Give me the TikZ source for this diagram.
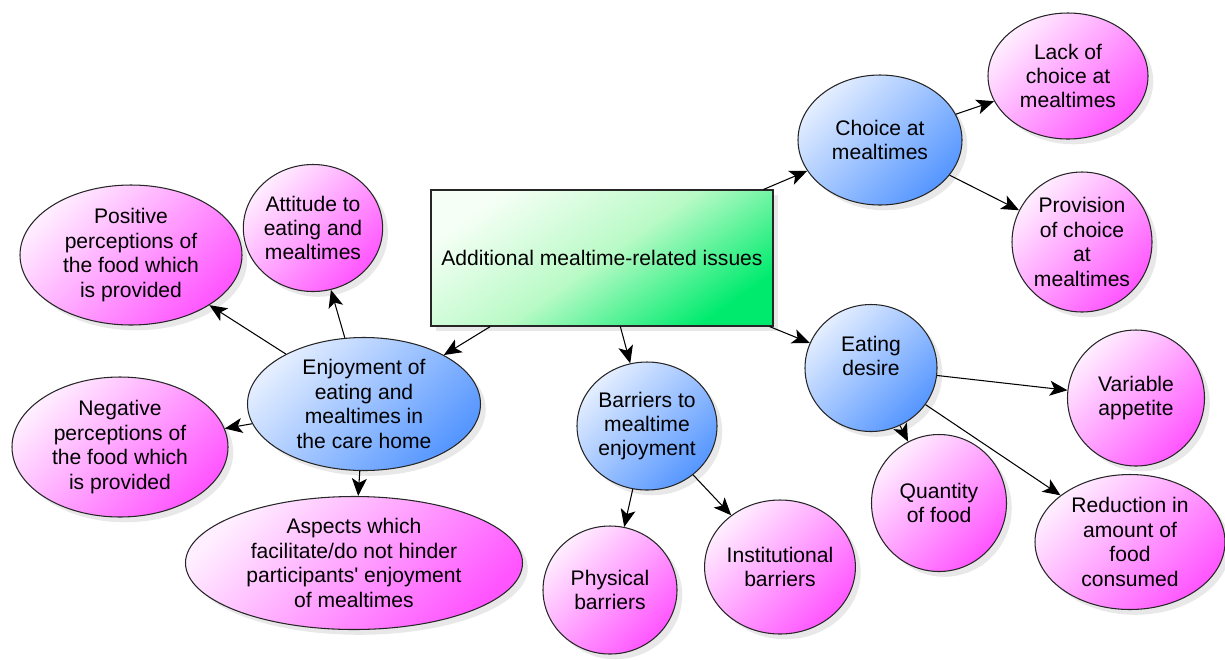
\documentclass[tikz,border=0pt]{standalone}
\usepackage{fontspec}
\setmainfont{Liberation Sans}
\usepackage{tikz}
\usetikzlibrary{arrows.meta,shapes,shadows,positioning,calc}

\definecolor{pinkhi}{RGB}{255,238,255}
\definecolor{pinklo}{RGB}{255,85,255}
\definecolor{bluehi}{RGB}{228,238,255}
\definecolor{bluelo}{RGB}{85,150,255}
\definecolor{greenhi}{RGB}{245,255,245}
\definecolor{greenmid}{RGB}{185,250,198}
\definecolor{greenlo}{RGB}{0,235,110}

\tikzset{
 topic/.style={ellipse, draw=black!85, line width=0.6pt, inner sep=0pt, align=center,
   font=\fontsize{12}{13.9}\selectfont,
   drop shadow={opacity=0.18, shadow xshift=3pt, shadow yshift=-3pt}},
 subtopic/.style={topic, top color=bluehi, bottom color=bluelo, shading angle=45},
 leaf/.style={topic, top color=pinkhi, bottom color=pinklo, shading angle=45},
 rootbox/.style={rectangle, draw=black!85, line width=0.6pt, align=center,
   font=\fontsize{12}{13.9}\selectfont,
   top color=greenhi, bottom color=greenlo, middle color=greenmid, shading angle=35,
   drop shadow={opacity=0.18, shadow xshift=3pt, shadow yshift=-3pt}},
 link/.style={-{Stealth[length=10pt,width=8.5pt,inset=2.5pt]}, line width=0.6pt}
}

\begin{document}
\begin{tikzpicture}
\useasboundingbox (0,0) rectangle (24.5,-13.18);

% centre
\node[rootbox, minimum width=6.84cm, minimum height=2.72cm] (root) at (12.04,-5.16) {Additional mealtime-related issues};

% choice
\node[subtopic, minimum width=3.28cm, minimum height=2.6cm] (choice) at (17.6,-2.8) {Choice at\\mealtimes};
\node[leaf, minimum width=3.2cm, minimum height=2.52cm] (lack) at (21.36,-1.52) {Lack of\\choice at\\mealtimes};
\node[leaf, minimum width=2.8cm, minimum height=2.8cm] (provision) at (21.64,-4.84) {Provision\\of choice\\at\\mealtimes};

% eating desire
\node[subtopic, minimum width=2.64cm, minimum height=2.54cm] (desire) at (17.42,-7.36) {Eating\\desire\\\mbox{}};
\node[leaf, minimum width=2.74cm, minimum height=2.72cm] (appetite) at (22.72,-7.96) {Variable\\appetite};
\node[leaf, minimum width=2.7cm, minimum height=2.74cm] (quantity) at (18.78,-10.06) {Quantity\\of food};
\node[leaf, minimum width=3.8cm, minimum height=2.7cm] (reduction) at (22.6,-10.84) {Reduction in\\amount of\\food\\consumed};

% barriers
\node[subtopic, minimum width=2.8cm, minimum height=2.56cm] (barriers) at (12.94,-8.52) {Barriers to\\mealtime\\enjoyment};
\node[leaf, minimum width=2.68cm, minimum height=2.56cm] (physical) at (12.2,-11.8) {Physical\\barriers};
\node[leaf, minimum width=2.84cm, minimum height=2.68cm] (institutional) at (15.6,-11.34) {Institutional\\barriers};

% enjoyment
\node[subtopic, minimum width=4.66cm, minimum height=2.66cm] (enjoy) at (7.28,-8.08) {Enjoyment of\\eating and\\mealtimes in\\the care home};
\node[leaf, minimum width=2.52cm, minimum height=2.54cm] (attitude) at (6.26,-4.56) {Attitude to\\eating and\\mealtimes};
\node[leaf, minimum width=4.44cm, minimum height=2.8cm] (positive) at (2.62,-5.1) {Positive\\perceptions of\\the food which\\is provided};
\node[leaf, minimum width=4.32cm, minimum height=2.8cm] (negative) at (2.4,-8.94) {Negative\\perceptions of\\the food which\\is provided};
\node[leaf, minimum width=6.74cm, minimum height=2.66cm] (aspects) at (7.08,-11.26) {Aspects which\\facilitate/do not hinder\\participants\textquotesingle{} enjoyment\\of mealtimes};

\draw[link] (root) -- (choice);
\draw[link] (root) -- (desire);
\draw[link] (root) -- (barriers);
\draw[link] (root) -- (enjoy);

\draw[link] (choice) -- (lack);
\draw[link] (choice) -- (provision);

\draw[link] (desire) -- (appetite);
\draw[link] (desire) -- (quantity);
\draw[link] (desire) -- (reduction);

\draw[link] (barriers) -- (physical);
\draw[link] (barriers) -- (institutional);

\draw[link] (enjoy) -- (positive);
\draw[link] (enjoy) -- (attitude);
\draw[link] (enjoy) -- (negative);
\draw[link] (enjoy) -- (aspects);
\end{tikzpicture}
\end{document}
